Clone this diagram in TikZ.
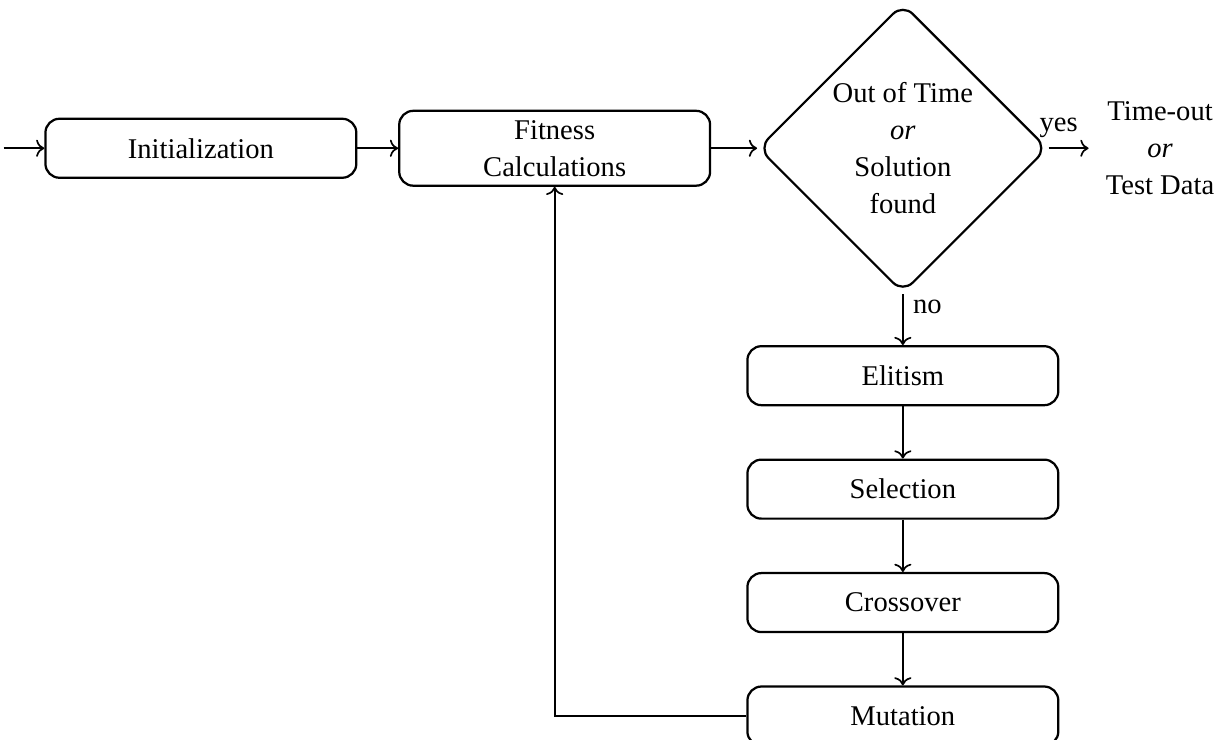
\documentclass[tikz,border=0pt]{standalone}
\usepackage{fontspec}
\setmainfont{Liberation Serif}
\usetikzlibrary{shapes.geometric, arrows.meta, positioning}
\tikzset{
	block/.style={rectangle, draw, thick, minimum width=3.9cm, minimum height=0.74cm, align=center, rounded corners=5pt},
	decision/.style={diamond, draw, thick, minimum width=3.63cm, minimum height=3.63cm, align=center, rounded corners=5pt, inner sep=0pt},
	line/.style={draw, ->, line width=0.6pt}
}

\begin{document}
\begin{tikzpicture}[
	% Set the default distance between nodes.
	node distance=0.655cm and 0.51cm,
	every node/.style={font=\fontsize{10.2}{13.2}\selectfont}
	]
	% Fix the page to the size of the original figure.
	\useasboundingbox (0,0) rectangle (15.38,-9.28);
	
	% === NODES ===
	% Main row of the loop.
	
	\node[block] (init) at (2.52,-1.86) {Initialization};
	\coordinate[left=of init] (start);
	\node[block, right=of init] (fit) {Fitness\\Calculations};
	\node[decision, right=0.575cm of fit] (dec) {Out of Time\\\textit{or}\\Solution\\found};
	\node[right=0.5cm of dec, align=center, inner sep=6pt] (tout) {Time-out\\\textit{or}\\Test Data};
	
	% Genetic operators below the decision.
	\node[block, below=0.64cm of dec] (elit) {Elitism};
	\node[block, below=of elit] (sel) {Selection};
	\node[block, below=of sel] (cross) {Crossover};
	\node[block, below=of cross] (mut) {Mutation};
	
	% === CONNECTIONS ===
	
	\draw[line] (start) -- (init);
	\draw[line] (init) -- (fit);
	\draw[line] (fit) -- (dec);
	\draw[line] (dec) -- node[pos=0.25, above] {yes} (tout);
	\draw[line] (dec) -- node[pos=0.25, right] {no} (elit);
	\draw[line] (elit) -- (sel);
	\draw[line] (sel) -- (cross);
	\draw[line] (cross) -- (mut);
	
	% Loop back to the fitness step
	\draw[line] (mut) -| (fit);
\end{tikzpicture}
\end{document}
